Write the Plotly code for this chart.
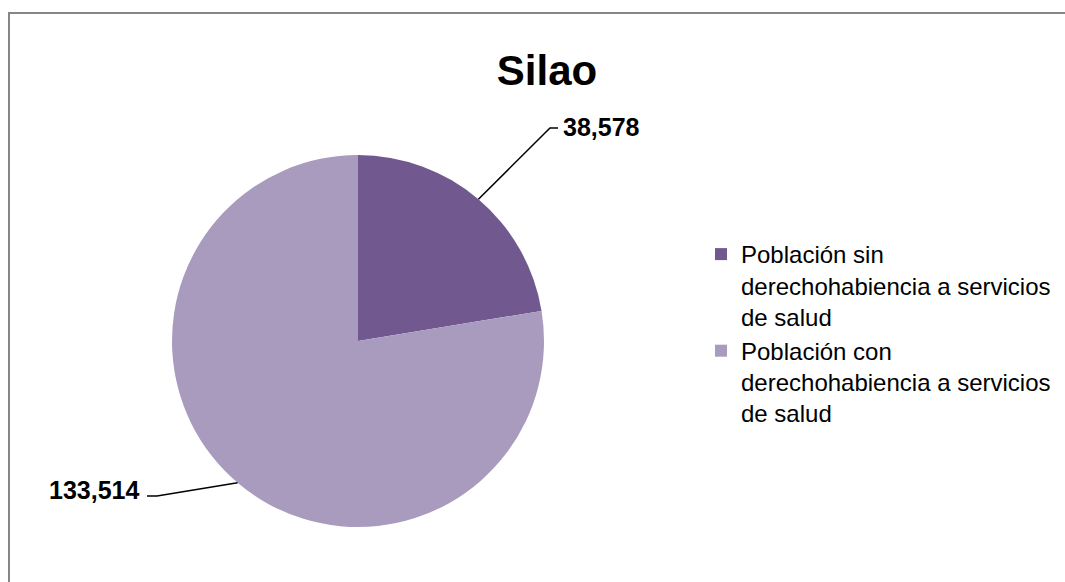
import math
import plotly.graph_objects as go

# Data
labels = ["Población sin<br>derechohabiencia a servicios<br>de salud",
          "Población con<br>derechohabiencia a servicios<br>de salud"]
values = [38578, 133514]
colors = ["#71588F", "#A99BBD"]
title = "Silao"

W, H = 1065, 582
# pie geometry in pixels (center, radius)
cx, cy, R = 358, 341, 186

def px(x):
    return x / W

def py(y):
    return 1 - y / H

fig = go.Figure()

fig.add_trace(go.Pie(
    labels=labels,
    values=values,
    sort=False,
    direction="clockwise",
    rotation=0,
    textinfo="none",
    hoverinfo="label+value",
    marker=dict(colors=colors, line=dict(width=0)),
    domain=dict(x=[px(cx - R), px(cx + R)], y=[py(cy + R), py(cy - R)]),
))

# leader lines + value labels, starting at each slice's mid angle
total = sum(values)
elbows = [(550, 128), (157, 496)]
ends = [(558, 128), (147, 496)]
label_pos = [(561, 127), (141, 490)]
anchors = ["left", "right"]

cum = 0
for i, v in enumerate(values):
    mid = (cum + v / 2) / total * 2 * math.pi
    cum += v
    ex = cx + R * math.sin(mid)
    ey = cy - R * math.cos(mid)
    path = "M {},{} L {},{} L {},{}".format(
        px(ex), py(ey), px(elbows[i][0]), py(elbows[i][1]), px(ends[i][0]), py(ends[i][1]))
    fig.add_shape(type="path", path=path, xref="paper", yref="paper",
                  line=dict(color="black", width=1.5))
    fig.add_annotation(x=px(label_pos[i][0]), y=py(label_pos[i][1]), xref="paper", yref="paper",
                       text="<b>{:,}</b>".format(v), showarrow=False,
                       xanchor=anchors[i], yanchor="middle",
                       font=dict(family="Liberation Sans, Arial", size=25, color="black"))

# chart border (only left and top edges fall inside the window)
fig.add_shape(type="path", xref="paper", yref="paper",
              path="M {},{} L {},{} L {},{}".format(px(9), -0.2, px(9), py(13), 1.2, py(13)),
              line=dict(color="#868686", width=2))

fig.update_layout(
    title=dict(text="<b>" + title + "</b>", x=px(547), xanchor="center",
               y=py(70), yanchor="middle",
               font=dict(family="Liberation Sans, Arial", size=42, color="black")),
    legend=dict(x=px(701), y=py(232), xanchor="left", yanchor="top",
                valign="top", traceorder="normal",
                font=dict(family="Liberation Sans, Arial", size=24, color="black")),
    width=W,
    height=H,
    margin=dict(l=0, r=0, t=0, b=0),
    paper_bgcolor="white",
    plot_bgcolor="white",
)

fig.write_html("out.html", config={"displayModeBar": False},
               post_script="document.body.style.margin='0';document.body.style.overflow='hidden';")
